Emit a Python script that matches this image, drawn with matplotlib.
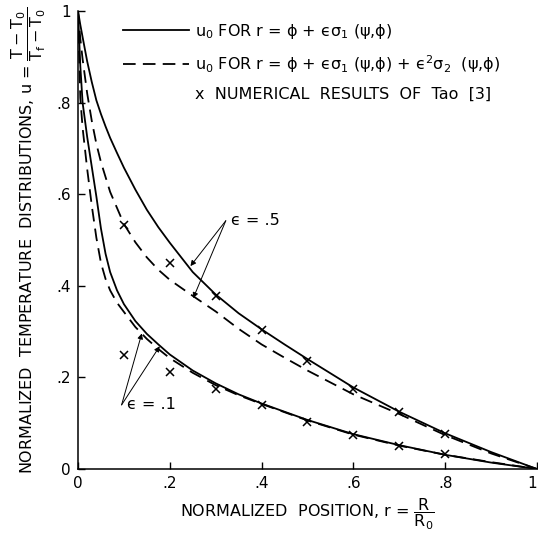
import matplotlib
matplotlib.use("Agg")
import matplotlib.pyplot as plt
from matplotlib.lines import Line2D

plt.rcParams['font.family'] = ['DejaVu Sans']
plt.rcParams['mathtext.fontset'] = 'dejavusans'

# ---- data ----
# epsilon = .5, first-order solution (solid)
x_a = [0, 0.005, 0.01, 0.02, 0.03, 0.04, 0.05, 0.06, 0.07, 0.085, 0.1, 0.125, 0.15, 0.175, 0.2, 0.25, 0.3, 0.35,
       0.4, 0.45, 0.5, 0.6, 0.7, 0.8, 0.9, 1.0]
u_a = [1.0, 0.97, 0.943, 0.89, 0.845, 0.805, 0.775, 0.748, 0.723, 0.69, 0.658, 0.61, 0.566, 0.528, 0.494, 0.43, 0.381, 0.34,
       0.305, 0.272, 0.24, 0.178, 0.125, 0.078, 0.037, 0.0]
# epsilon = .5, second-order solution (dashed)
x_b = [0, 0.005, 0.01, 0.02, 0.03, 0.04, 0.05, 0.07, 0.1, 0.125, 0.15, 0.175, 0.2, 0.25, 0.3, 0.35,
       0.4, 0.45, 0.5, 0.6, 0.7, 0.8, 0.9, 1.0]
u_b = [1.0, 0.94, 0.895, 0.82, 0.76, 0.71, 0.67, 0.605, 0.535, 0.495, 0.462, 0.435, 0.413, 0.378, 0.344, 0.306,
       0.272, 0.243, 0.215, 0.163, 0.12, 0.074, 0.034, 0.0]
# epsilon = .1, first-order solution (solid)
x_c = [0, 0.005, 0.01, 0.02, 0.03, 0.04, 0.05, 0.06, 0.07, 0.085, 0.1, 0.125, 0.15, 0.175, 0.2, 0.25,
       0.3, 0.35, 0.4, 0.5, 0.6, 0.7, 0.8, 0.9, 1.0]
u_c = [1.0, 0.88, 0.80, 0.725, 0.66, 0.595, 0.525, 0.47, 0.43, 0.39, 0.36, 0.323, 0.295, 0.272, 0.25, 0.215,
       0.187, 0.163, 0.143, 0.107, 0.076, 0.052, 0.031, 0.014, 0.0]
# epsilon = .1, second-order solution (dashed)
x_d = [0, 0.005, 0.01, 0.02, 0.03, 0.04, 0.05, 0.06, 0.07, 0.085, 0.1, 0.125, 0.15, 0.175, 0.2, 0.25,
       0.3, 0.35, 0.4, 0.5, 0.6, 0.7, 0.8, 0.9, 1.0]
u_d = [1.0, 0.81, 0.745, 0.655, 0.575, 0.505, 0.45, 0.415, 0.39, 0.363, 0.343, 0.31, 0.284, 0.262, 0.242, 0.21,
       0.183, 0.161, 0.142, 0.106, 0.075, 0.051, 0.031, 0.015, 0.0]
# numerical results of Tao [3]
x_num = [0.1, 0.2, 0.3, 0.4, 0.5, 0.6, 0.7, 0.8]
u_num_05 = [0.533, 0.45, 0.378, 0.303, 0.236, 0.175, 0.124, 0.076]
u_num_01 = [0.249, 0.212, 0.175, 0.14, 0.103, 0.074, 0.05, 0.033]

tick_vals = [0, 0.2, 0.4, 0.6, 0.8, 1.0]
tick_labels = ['0', '.2', '.4', '.6', '.8', '1']

fig = plt.figure(figsize=(5.38, 5.35), dpi=100)
ax = fig.add_axes([0.145, 0.1234, 0.853, 0.856])

dash = (0, (7, 4))
lw = 1.3
ax.plot(x_a, u_a, color='black', lw=lw)
ax.plot(x_b, u_b, color='black', lw=lw, linestyle=dash)
ax.plot(x_c, u_c, color='black', lw=lw)
ax.plot(x_d, u_d, color='black', lw=lw, linestyle=dash)
ax.plot(x_num, u_num_05, linestyle='none', marker='x', color='black', ms=6, mew=1.1)
ax.plot(x_num, u_num_01, linestyle='none', marker='x', color='black', ms=6, mew=1.1)

ax.set_xlim(0, 1)
ax.set_ylim(0, 1)
ax.spines['top'].set_visible(False)
ax.spines['right'].set_visible(False)
ax.spines['left'].set_linewidth(1.1)
ax.spines['bottom'].set_linewidth(1.1)
ax.set_xticks(tick_vals)
ax.set_xticklabels(tick_labels)
ax.set_yticks(tick_vals)
ax.set_yticklabels(tick_labels)
ax.tick_params(direction='in', length=5, width=1, labelsize=11, pad=5)
ax.get_xticklabels()[-1].set_horizontalalignment('right')

ax.set_xlabel(r'NORMALIZED  POSITION, r = $\mathrm{\dfrac{R}{R_0}}$', fontsize=11.5, labelpad=4)
ax.set_ylabel(r'NORMALIZED  TEMPERATURE  DISTRIBUTIONS, u = $\mathrm{\dfrac{T-T_0}{T_f-T_0}}$',
              fontsize=11.5, labelpad=6)

# annotations
arrow = dict(arrowstyle='-|>', color='black', lw=0.7, mutation_scale=8, shrinkA=0, shrinkB=0)
ax.text(0.333, 0.542, 'ϵ = .5', fontsize=11.5, va='center', ha='left')
ax.annotate('', xy=(0.245, 0.443), xytext=(0.322, 0.542), arrowprops=arrow)
ax.annotate('', xy=(0.251, 0.373), xytext=(0.322, 0.542), arrowprops=arrow)
ax.text(0.107, 0.14, 'ϵ = .1', fontsize=11.5, va='center', ha='left')
ax.annotate('', xy=(0.139, 0.296), xytext=(0.095, 0.14), arrowprops=arrow)
ax.annotate('', xy=(0.178, 0.268), xytext=(0.095, 0.14), arrowprops=arrow)

handles = [Line2D([], [], color='black', lw=lw),
           Line2D([], [], color='black', lw=lw, linestyle=dash),
           Line2D([], [], linestyle='none')]
labels = ['u$_0$ FOR r = ϕ + ϵσ$_1$ (ψ,ϕ)',
          'u$_0$ FOR r = ϕ + ϵσ$_1$ (ψ,ϕ) + ϵ$^2$σ$_2$  (ψ,ϕ)',
          'x  NUMERICAL  RESULTS  OF  Tao  [3]']
ax.legend(handles, labels, loc='upper left', bbox_to_anchor=(0.085, 0.99), frameon=False,
          fontsize=11.5, handlelength=4.1, handletextpad=0.4, labelspacing=0.75,
          borderaxespad=0)

fig.savefig('out.png', dpi=100)
